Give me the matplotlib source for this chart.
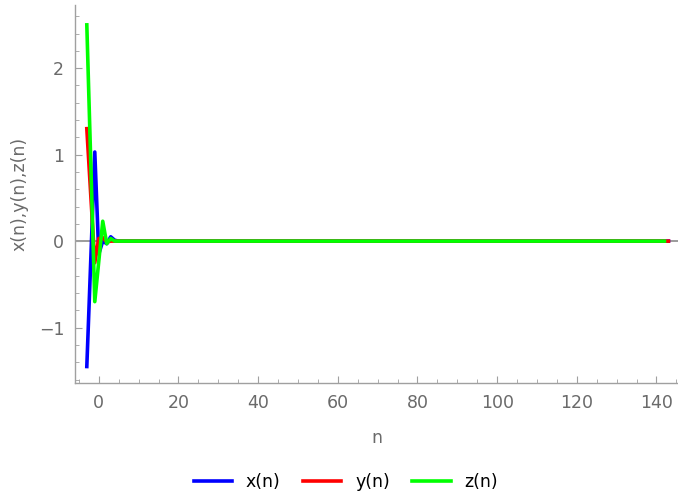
import matplotlib.pyplot as plt
from matplotlib.ticker import MultipleLocator

# values
n_x = [-3, -1, 0, 1, 2, 3, 4, 5, 143]
x_vals = [-1.45, 1.03, -0.15, 0.0, -0.03, 0.05, 0.01, 0.0, 0.0]

n_y = [-3, -1, 0, 1, 2, 3, 143]
y_vals = [1.30, -0.25, 0.03, 0.04, -0.01, 0.0, 0.0]

n_z = [-3, -1, 1, 2, 3, 4, 142]
z_vals = [2.50, -0.70, 0.23, -0.03, 0.03, 0.0, 0.0]

grey = "#6a6a6a"
fig = plt.figure(figsize=(6.78, 4.98), dpi=100)
ax = fig.add_axes([0.111, 0.231, 0.889, 0.759])

ax.axhline(0, color="#8a8a8a", lw=1.2, zorder=1)
ax.plot(n_x, x_vals, color="#0000ff", lw=2.6, label="x(n)", zorder=2)
ax.plot(n_y, y_vals, color="#ff0000", lw=2.6, label="y(n)", zorder=3)
ax.plot(n_z, z_vals, color="#00ff00", lw=2.6, label="z(n)", zorder=4)

ax.set_xlim(-5.9, 145.4)
ax.set_ylim(-1.64, 2.73)

for side in ["top", "right"]:
    ax.spines[side].set_visible(False)
for side in ["left", "bottom"]:
    ax.spines[side].set_color("#a0a0a0")
    ax.spines[side].set_linewidth(1.0)

ax.xaxis.set_major_locator(MultipleLocator(20))
ax.xaxis.set_minor_locator(MultipleLocator(5))
ax.yaxis.set_major_locator(MultipleLocator(1))
ax.yaxis.set_minor_locator(MultipleLocator(0.2))
ax.tick_params(which="both", direction="in", color="#a0a0a0", labelcolor=grey,
               labelsize=12.5)
ax.tick_params(which="major", length=5, width=0.8, pad=8)
ax.tick_params(which="minor", length=3, width=0.6)
ax.set_yticks([-1, 0, 1, 2])
ax.set_yticklabels(["\u22121", "0", "1", "2"])

ax.set_xlabel("n", color=grey, fontsize=12.5, labelpad=12)
ax.set_ylabel("x(n),y(n),z(n)", color=grey, fontsize=12.5, labelpad=7)

fig.legend(loc="lower center", bbox_to_anchor=(0.51, -0.018), ncol=3, frameon=False,
           fontsize=12.5, handlelength=2.2, columnspacing=1.3, handletextpad=0.8)

fig.savefig("out.png", dpi=100)
